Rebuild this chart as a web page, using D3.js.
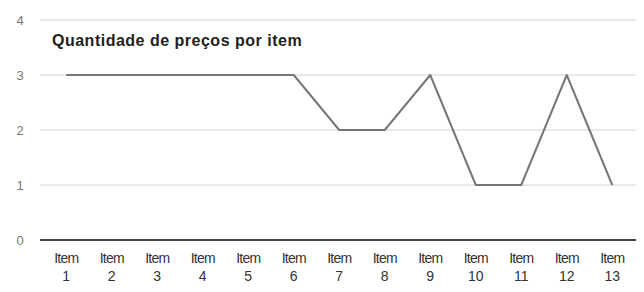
<!DOCTYPE html>
<html>
<head>
<meta charset="utf-8">
<script src="https://cdn.jsdelivr.net/npm/d3@7"></script>
<style>
  body { margin: 0; background: #fff; }
  text { font-family: "Liberation Sans", Arial, sans-serif; }
</style>
</head>
<body>
<div class="grafico"></div>
<script>
var width = 644,
  height = 292;

// data
const items = ["1", "2", "3", "4", "5", "6", "7", "8", "9", "10", "11", "12", "13"];
const precos = [3, 3, 3, 3, 3, 3, 2, 2, 3, 1, 1, 3, 1];
const yTicks = [0, 1, 2, 3, 4];
const titulo = "Quantidade de preços por item";

let svg = d3.select(".grafico")
  .append("svg")
  .attr("width", width)
  .attr("height", height);

const x = d3.scaleBand()
  .domain(items)
  .range([43.5, 635]);

const y = d3.scaleLinear()
  .domain([0, 4])
  .range([240, 20]);

// gridlines
svg.append("g")
  .selectAll("line")
  .data(yTicks.filter(d => d > 0))
  .enter().append("line")
  .attr("x1", 40)
  .attr("x2", 636)
  .attr("y1", d => y(d))
  .attr("y2", d => y(d))
  .attr("stroke", "#d4d4d4")
  .attr("stroke-width", 1);

// y labels
svg.append("g")
  .selectAll("text")
  .data(yTicks)
  .enter().append("text")
  .attr("x", 20)
  .attr("y", d => y(d) + 5)
  .attr("text-anchor", "middle")
  .attr("font-size", 13)
  .attr("fill", "#777")
  .text(d => d);

// x axis line
svg.append("line")
  .attr("x1", 40)
  .attr("x2", 636)
  .attr("y1", y(0))
  .attr("y2", y(0))
  .attr("stroke", "#444")
  .attr("stroke-width", 2);

// x labels
const xl = svg.append("g")
  .selectAll("text")
  .data(items)
  .enter().append("text")
  .attr("text-anchor", "middle")
  .attr("font-size", 14)
  .attr("fill", "#333");
xl.append("tspan")
  .attr("x", d => x(d) + x.bandwidth() / 2)
  .attr("y", 263)
  .attr("letter-spacing", "-0.8px")
  .text("Item");
xl.append("tspan")
  .attr("x", d => x(d) + x.bandwidth() / 2)
  .attr("y", 281)
  .text(d => d);

// line
const line = d3.line()
  .x((d, i) => x(items[i]) + x.bandwidth() / 2)
  .y(d => y(d));

svg.append("path")
  .datum(precos)
  .attr("d", line)
  .attr("fill", "none")
  .attr("stroke", "#777")
  .attr("stroke-width", 2)
  .attr("stroke-linejoin", "round");

// title
svg.append("text")
  .attr("x", 52)
  .attr("y", 46)
  .attr("font-size", 16)
  .attr("font-weight", "bold")
  .attr("letter-spacing", "0.5px")
  .attr("fill", "#222")
  .text(titulo);
</script>
</body>
</html>
